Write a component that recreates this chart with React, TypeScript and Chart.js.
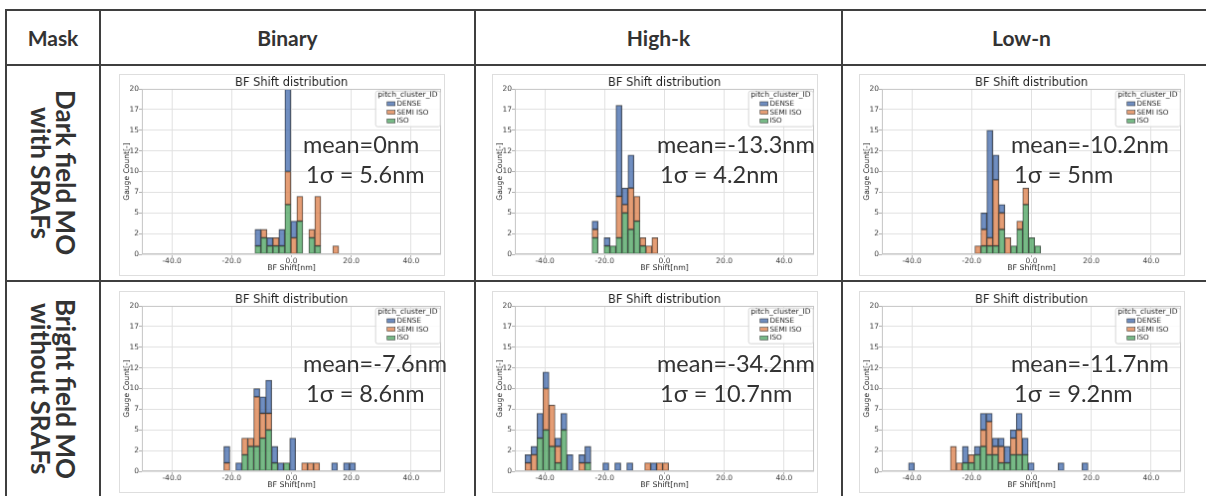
import React, { useEffect, useRef } from 'react';
import { Chart, registerables } from 'chart.js';

Chart.register(...registerables);
Chart.defaults.font.family = "'DejaVu Sans'";

// ---------- axes / labels ----------
const X_TICKS = [-40, -20, 0, 20, 40];
const X_MIN = -50;
const X_MAX = 50;
const Y_MAX = 20;
const Y_STEP = 2.5;
const CHART_TITLE = 'BF Shift distribution';
const X_TITLE = 'BF Shift[nm]';
const Y_TITLE = 'Gauge Count[-]';
const LEGEND_TITLE = 'pitch_cluster_ID';
const SERIES_NAMES = ['DENSE', 'SEMI ISO', 'ISO'];

const COLUMN_HEADERS = ['Mask', 'Binary', 'High-k', 'Low-n'];
const ROW_HEADERS = [
  ['Dark field MO', 'with SRAFs'],
  ['Bright field MO', 'without SRAFs'],
];

// ---------- data: bin centers [nm] and counts per pitch cluster ----------
// Dark field / Binary
const DF_BIN_X = [-11.2, -9.2, -7.2, -5.2, -3.2, -1.2, 0.8, 2.8, 6.8, 8.8, 14.8];
const DF_BIN_ISO = [1, 2, 1, 1, 1, 6, 0, 4, 2, 1, 0];
const DF_BIN_SEMI = [0, 1, 0, 1, 0, 4, 2, 3, 1, 6, 1];
const DF_BIN_DENSE = [2, 0, 1, 0, 2, 10, 2, 0, 0, 0, 0];

// Dark field / High-k
const DF_HK_X = [-23.2, -19.2, -17.2, -15.2, -13.2, -11.2, -9.2, -7.2, -5.2, -3.2];
const DF_HK_ISO = [2, 1, 1, 2, 5, 3, 4, 1, 0, 0];
const DF_HK_SEMI = [1, 0, 0, 5, 1, 5, 3, 1, 1, 2];
const DF_HK_DENSE = [1, 1, 0, 11, 2, 4, 0, 0, 0, 0];

// Dark field / Low-n
const DF_LN_X = [-17.9, -15.9, -13.9, -11.9, -9.9, -7.9, -5.9, -3.9, -1.9, 0.1, 2.1];
const DF_LN_ISO = [0, 1, 1, 1, 3, 0, 1, 3, 6, 2, 1];
const DF_LN_SEMI = [1, 2, 1, 8, 2, 2, 0, 1, 2, 0, 0];
const DF_LN_DENSE = [0, 2, 13, 3, 1, 0, 0, 0, 0, 0, 0];

// Bright field / Binary
const BF_BIN_X = [-21.6, -17.6, -15.6, -13.6, -11.6, -9.6, -7.6, -5.6, -3.6, -1.6, 0.4, 4.4, 6.4, 8.4, 14.4, 18.4, 20.4];
const BF_BIN_ISO = [0, 0, 2, 3, 3, 4, 5, 1, 0, 1, 0, 0, 0, 0, 0, 0, 0];
const BF_BIN_SEMI = [1, 0, 2, 1, 6, 3, 2, 0, 0, 0, 0, 1, 1, 1, 0, 0, 0];
const BF_BIN_DENSE = [2, 1, 0, 0, 1, 2, 4, 2, 1, 0, 4, 0, 0, 0, 1, 1, 1];

// Bright field / High-k
const BF_HK_X = [-45.6, -43.6, -41.6, -39.6, -37.6, -35.6, -33.6, -31.6, -27.6, -25.6, -19.6, -15.6, -11.6, -5.6, -3.6, -1.6, 0.4];
const BF_HK_ISO = [0, 0, 4, 5, 3, 1, 5, 0, 0, 1, 0, 0, 0, 0, 0, 0, 0];
const BF_HK_SEMI = [1, 2, 0, 5, 5, 2, 0, 0, 1, 0, 0, 0, 0, 1, 0, 1, 1];
const BF_HK_DENSE = [1, 1, 3, 2, 0, 1, 2, 2, 1, 2, 1, 1, 1, 0, 1, 0, 0];

// Bright field / Low-n
const BF_LN_X = [-40.1, -26.1, -24.1, -22.1, -20.1, -18.1, -16.1, -14.1, -12.1, -10.1, -8.1, -6.1, -4.1, -2.1, -0.1, 9.9, 17.9];
const BF_LN_ISO = [0, 0, 0, 1, 1, 2, 3, 2, 2, 1, 1, 2, 2, 2, 0, 0, 0];
const BF_LN_SEMI = [0, 3, 1, 0, 1, 0, 2, 4, 1, 2, 0, 2, 3, 0, 0, 0, 0];
const BF_LN_DENSE = [1, 0, 0, 2, 0, 1, 2, 1, 1, 1, 2, 1, 2, 2, 1, 1, 1];

// annotations
const MEANS = ['mean=0nm', 'mean=-13.3nm', 'mean=-10.2nm', 'mean=-7.6nm', 'mean=-34.2nm', 'mean=-11.7nm'];
const SIGMAS = ['1σ = 5.6nm', '1σ = 4.2nm', '1σ = 5nm', '1σ = 8.6nm', '1σ = 10.7nm', '1σ = 9.2nm'];

// ---------- style ----------
const C_DENSE = 'rgba(76,114,176,0.8)';
const C_SEMI = 'rgba(221,132,82,0.8)';
const C_ISO = 'rgba(85,168,104,0.8)';
const EDGE = 'rgba(45,45,45,0.85)';
const LINE = '#3f3f3f';

const CW = 326;
const CH = 202;

const framePlugin = {
  id: 'frame',
  afterDraw(chart: any) {
    const { ctx, chartArea } = chart;
    const { left, right, top, bottom } = chartArea;
    ctx.save();
    // spines
    ctx.strokeStyle = '#c4c4c4';
    ctx.lineWidth = 1;
    ctx.strokeRect(left + 0.5, top + 0.5, right - left - 1, bottom - top - 1);
    // title
    ctx.fillStyle = '#1e1e1e';
    ctx.font = "11.5px 'DejaVu Sans'";
    ctx.textAlign = 'center';
    ctx.textBaseline = 'middle';
    ctx.fillText(CHART_TITLE, (left + right) / 2, 7.6);
    // legend
    const w = 65;
    const h = 36;
    const lx = right - 1.3 - w;
    const ly = top + 1.7;
    ctx.fillStyle = 'rgba(255,255,255,0.85)';
    ctx.strokeStyle = '#d6d6d6';
    ctx.beginPath();
    ctx.roundRect(lx + 0.5, ly + 0.5, w, h, 2);
    ctx.fill();
    ctx.stroke();
    ctx.fillStyle = '#262626';
    ctx.textAlign = 'left';
    ctx.font = "7.6px 'DejaVu Sans'";
    ctx.fillText(LEGEND_TITLE, lx + 2.5, ly + 4.8);
    const cols = [C_DENSE, C_SEMI, C_ISO];
    ctx.font = "7.2px 'DejaVu Sans'";
    SERIES_NAMES.forEach((name, i) => {
      const y = ly + 13.3 + i * 8.65;
      ctx.fillStyle = '#fff';
      ctx.fillRect(lx + 12, y - 2, 8, 4);
      ctx.fillStyle = cols[i];
      ctx.fillRect(lx + 12, y - 2, 8, 4);
      ctx.strokeStyle = EDGE;
      ctx.lineWidth = 0.6;
      ctx.strokeRect(lx + 12, y - 2, 8, 4);
      ctx.fillStyle = '#262626';
      ctx.fillText(name, lx + 21.7, y);
    });
    ctx.restore();
  },
};

type HistProps = {
  left: number;
  top: number;
  xs: number[];
  iso: number[];
  semi: number[];
  dense: number[];
};

function Hist(p: HistProps) {
  const ref = useRef<HTMLCanvasElement>(null);
  useEffect(() => {
    const mk = (label: string, vals: number[], color: string) => ({
      label,
      data: p.xs.map((x, i) => ({ x, y: vals[i] ? vals[i] : null })),
      backgroundColor: color,
      borderColor: EDGE,
      borderWidth: 0.8,
      borderSkipped: false,
      stack: 'all',
      categoryPercentage: 1,
      barPercentage: 1,
    });
    const tickFont = { size: 7.5, family: "'DejaVu Sans'" };
    const chart = new Chart(ref.current as HTMLCanvasElement, {
      type: 'bar',
      data: {
        datasets: [mk('ISO', p.iso, C_ISO), mk('SEMI ISO', p.semi, C_SEMI), mk('DENSE', p.dense, C_DENSE)] as any,
      },
      options: {
        animation: false,
        responsive: false,
        devicePixelRatio: 1,
        layout: { padding: { top: 14, right: 3, left: 0, bottom: 0 } },
        plugins: {
          legend: { display: false },
          title: { display: false },
          tooltip: { enabled: false },
        },
        scales: {
          x: {
            type: 'linear',
            min: X_MIN,
            max: X_MAX,
            offset: false,
            afterBuildTicks: (s: any) => {
              s.ticks = X_TICKS.map((value) => ({ value }));
            },
            afterFit: (s: any) => {
              s.height = 21;
            },
            ticks: {
              autoSkip: false,
              maxRotation: 0,
              padding: 0,
              color: '#3c3c3c',
              font: tickFont,
              callback: (v: any) => Number(v).toFixed(1),
            },
            grid: { offset: false, color: '#e1e1e1', tickLength: 3, tickColor: '#b0b0b0' },
            border: { display: false },
            title: {
              display: true,
              text: X_TITLE,
              color: '#262626',
              font: { size: 7.8 },
              padding: { top: 0, bottom: 2.4 },
            },
          },
          y: {
            stacked: true,
            min: 0,
            max: Y_MAX,
            afterFit: (s: any) => {
              s.width = 22;
            },
            ticks: {
              stepSize: Y_STEP,
              padding: 0,
              color: '#3c3c3c',
              font: tickFont,
              callback: (v: any) => String(Math.floor(Number(v))),
            },
            grid: { color: '#e1e1e1', tickLength: 3, tickColor: '#b0b0b0' },
            border: { display: false },
            title: {
              display: true,
              text: Y_TITLE,
              color: '#262626',
              font: { size: 7.6 },
              padding: { top: 2.2, bottom: 0 },
            },
          },
        },
      } as any,
      plugins: [framePlugin],
    });
    return () => chart.destroy();
  }, []);
  return (
    <canvas
      ref={ref}
      width={CW}
      height={CH}
      style={{
        position: 'absolute',
        left: p.left - 1,
        top: p.top - 1,
        width: CW,
        height: CH,
        border: '1px solid #dedede',
        background: '#fff',
        display: 'block',
      }}
    />
  );
}

const hLine = (top: number) => (
  <div key={'h' + top} style={{ position: 'absolute', left: 5, top, width: 1201, height: 2, background: LINE }} />
);
const vLine = (left: number) => (
  <div key={'v' + left} style={{ position: 'absolute', left, top: 9, width: 2, height: 487, background: LINE }} />
);

export default function App() {
  const colLefts = [120, 493, 860];
  const rowTops = [75, 292];
  const charts = [
    [DF_BIN_X, DF_BIN_ISO, DF_BIN_SEMI, DF_BIN_DENSE],
    [DF_HK_X, DF_HK_ISO, DF_HK_SEMI, DF_HK_DENSE],
    [DF_LN_X, DF_LN_ISO, DF_LN_SEMI, DF_LN_DENSE],
    [BF_BIN_X, BF_BIN_ISO, BF_BIN_SEMI, BF_BIN_DENSE],
    [BF_HK_X, BF_HK_ISO, BF_HK_SEMI, BF_HK_DENSE],
    [BF_LN_X, BF_LN_ISO, BF_LN_SEMI, BF_LN_DENSE],
  ];
  const textLefts = [303, 657, 1011];
  const meanTops = [132.6, 352];
  const sigmaTops = [163, 382];
  const headerCells = [
    [6, 94],
    [101, 373],
    [476, 365],
    [843, 357],
  ];
  const annotStyle: React.CSSProperties = {
    position: 'absolute',
    fontFamily: 'Lato, sans-serif',
    fontSize: 23.5,
    lineHeight: '23px',
    color: '#333',
    whiteSpace: 'nowrap',
  };
  return (
    <div
      style={{
        position: 'absolute',
        left: 0,
        top: 0,
        width: 1206,
        height: 496,
        overflow: 'hidden',
        background: '#fff',
      }}
    >
      {charts.map((c, i) => (
        <Hist
          key={i}
          left={colLefts[i % 3]}
          top={rowTops[Math.floor(i / 3)]}
          xs={c[0]}
          iso={c[1]}
          semi={c[2]}
          dense={c[3]}
        />
      ))}
      {MEANS.map((t, i) => (
        <div key={'m' + i} style={{ ...annotStyle, left: textLefts[i % 3], top: meanTops[Math.floor(i / 3)] }}>
          {t}
        </div>
      ))}
      {SIGMAS.map((t, i) => (
        <div key={'s' + i} style={{ ...annotStyle, left: textLefts[i % 3] + 3, top: sigmaTops[Math.floor(i / 3)] }}>
          {t}
        </div>
      ))}
      {COLUMN_HEADERS.map((t, i) => (
        <div
          key={'c' + i}
          style={{
            position: 'absolute',
            left: headerCells[i][0],
            width: headerCells[i][1],
            top: 11,
            height: 53,
            display: 'flex',
            alignItems: 'center',
            justifyContent: 'center',
            fontFamily: 'Lato, sans-serif',
            fontWeight: 700,
            fontSize: 21,
            color: '#333',
          }}
        >
          {t}
        </div>
      ))}
      {ROW_HEADERS.map((lines, i) => (
        <div
          key={'r' + i}
          style={{
            position: 'absolute',
            left: 7,
            width: 92,
            top: i === 0 ? 66 : 282,
            height: 214,
            display: 'flex',
            alignItems: 'center',
            justifyContent: 'center',
          }}
        >
          <div
            style={{
              writingMode: 'vertical-rl',
              textAlign: 'center',
              fontFamily: 'Lato, sans-serif',
              fontWeight: 700,
              fontSize: 26,
              lineHeight: '25px',
              color: '#333',
              whiteSpace: 'nowrap',
            }}
          >
            {lines[0]}
            <br />
            {lines[1]}
          </div>
        </div>
      ))}
      {[9, 64, 280].map(hLine)}
      {[5, 99, 474, 841].map(vLine)}
    </div>
  );
}
